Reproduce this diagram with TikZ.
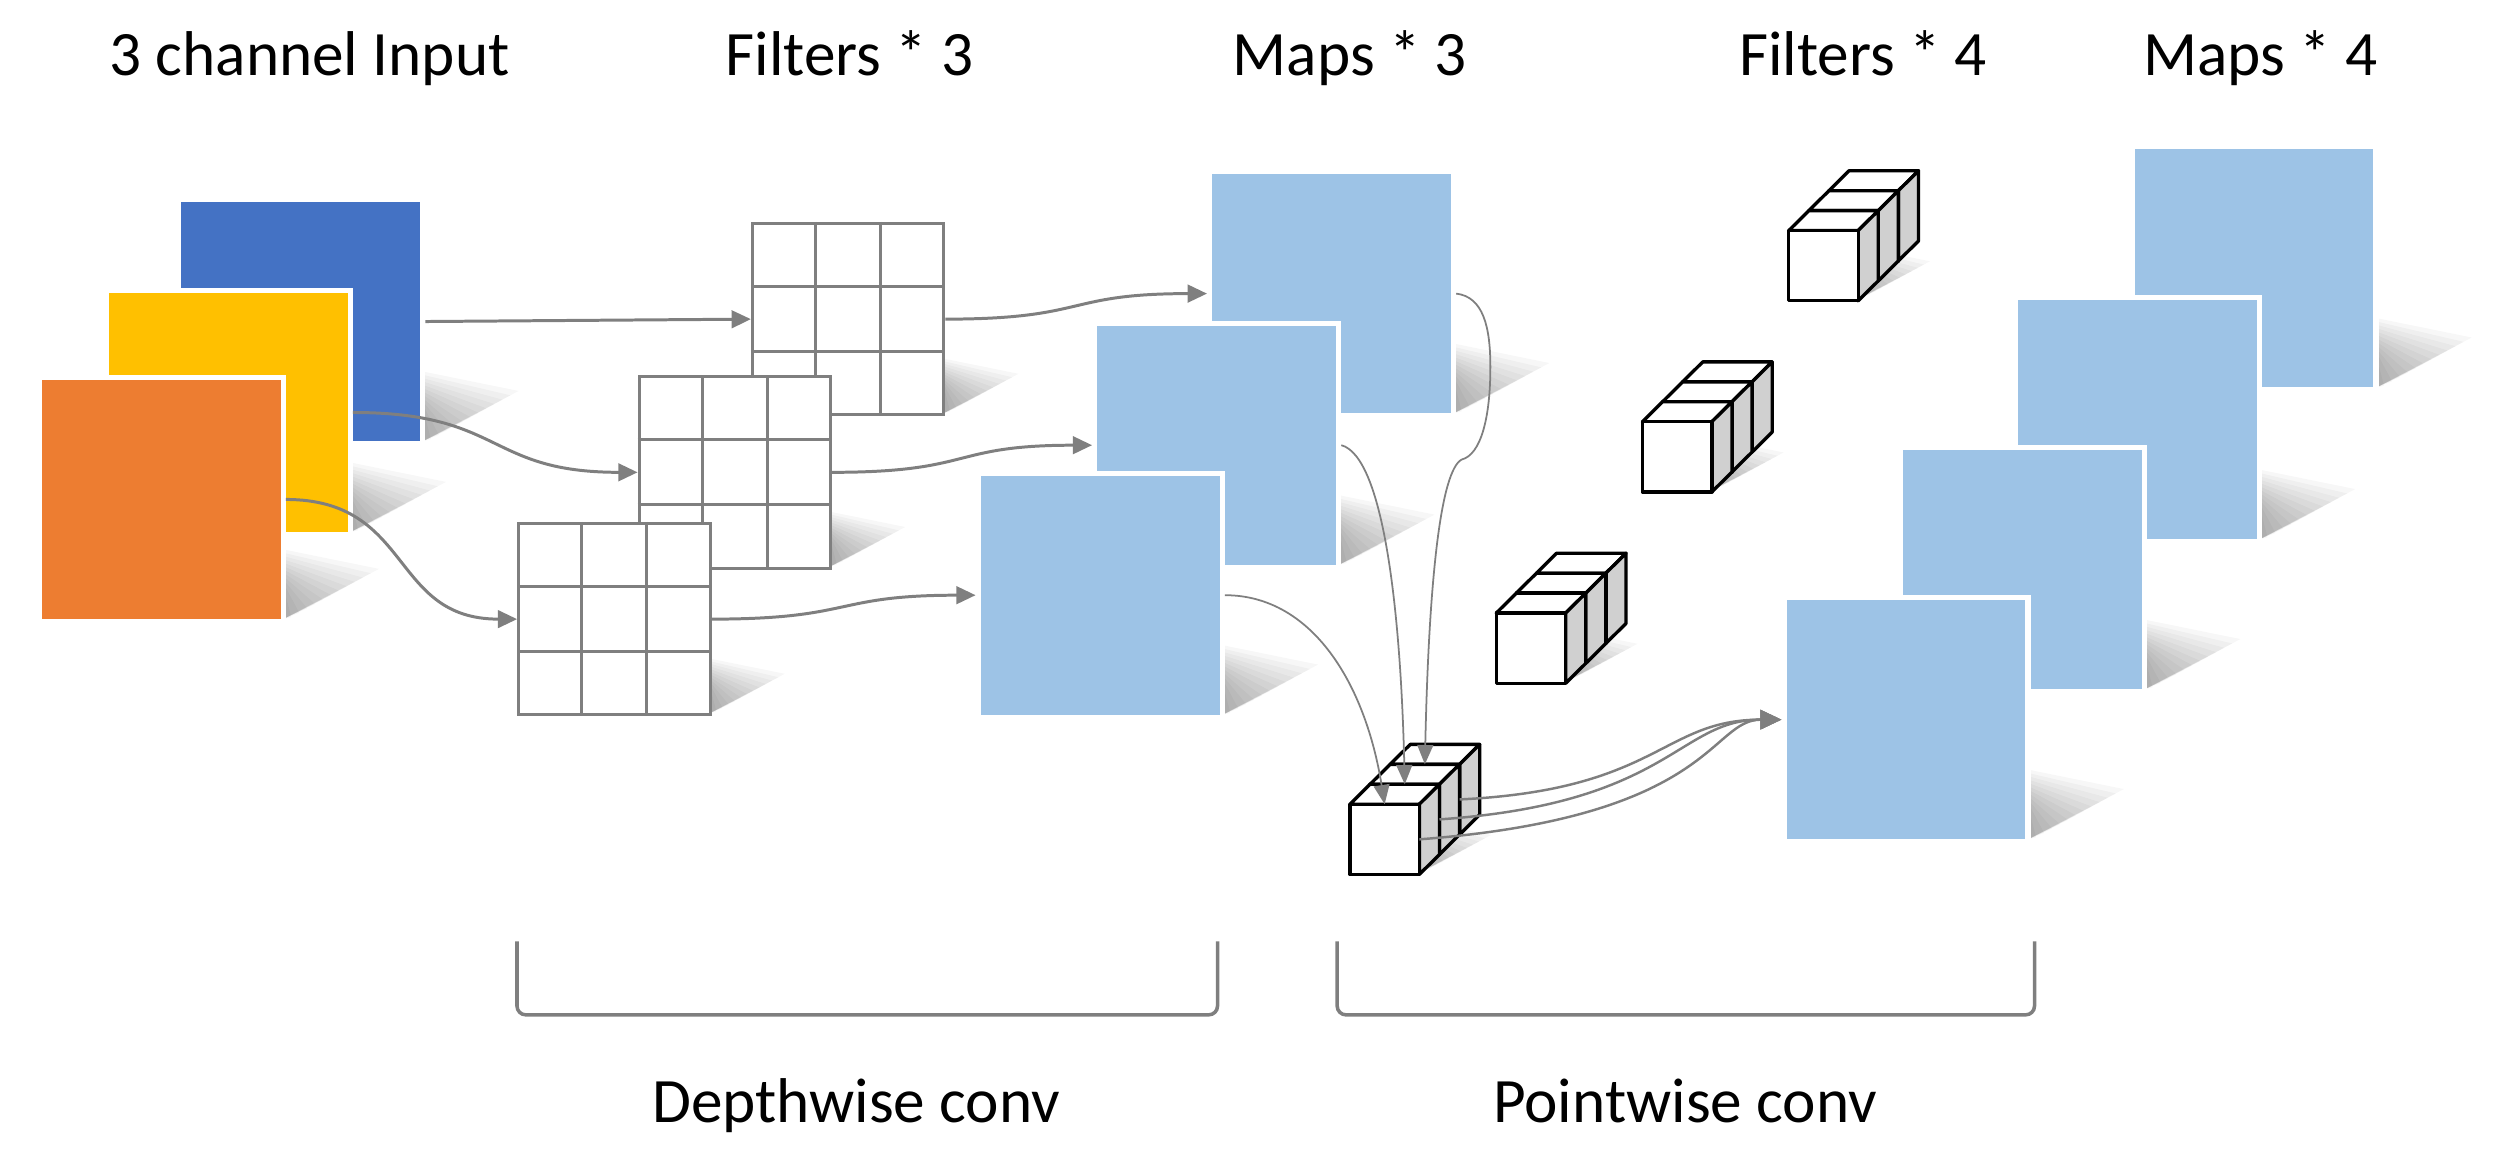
\documentclass[tikz,border=0pt]{standalone}
\usepackage{fontspec}
\setmainfont{Carlito}
\usetikzlibrary{arrows.meta,calc}

\definecolor{inblue}{HTML}{4472C4}
\definecolor{inyellow}{HTML}{FFC000}
\definecolor{inorange}{HTML}{ED7D31}
\definecolor{mapblue}{HTML}{9DC3E6}
\definecolor{linegray}{HTML}{7F7F7F}
\definecolor{cubegray}{HTML}{D0D0D0}

\tikzset{
  sheet/.style={rectangle, draw=white, line width=1.5pt, inner sep=0pt, minimum size=2.44cm},
  kernel/.style={rectangle, draw=linegray, fill=white, line width=0.85pt, inner sep=0pt, minimum size=1.915cm},
  kline/.style={draw=linegray, line width=0.85pt},
  flowarrow/.style={draw=linegray, line width=0.85pt, -{Triangle[length=5.5pt,width=5pt]}},
  thinflow/.style={draw=linegray, line width=0.5pt, -{Triangle[length=5.5pt,width=4.5pt]}},
  outflow/.style={draw=linegray, line width=0.7pt, -{Triangle[length=6pt,width=5.5pt]}},
  cubeline/.style={draw=black, line width=0.95pt, line join=round},
  headline/.style={font=\fontsize{18}{22}\selectfont, anchor=base, inner sep=0pt},
  bracketline/.style={draw=linegray, line width=1pt, rounded corners=2.5pt},
  softshadow/.pic={
    \foreach \k in {1,...,12}
      \fill[black, opacity=0.03] (-30,-1.5) -- (0,-1.5) -- ({5*\k},{-2.75*\k}) -- (0,{-20-2.1*\k}) -- (-30,{-20-2.1*\k}) -- cycle;
  },
  cubestack/.pic={
    \foreach \k in {2,1,0}{
      \begin{scope}[shift={({12.6*\k},{-12.5*\k})}]
        \filldraw[cubeline, fill=white] (0,0) -- (12.6,-12.5) -- (56.1,-12.5) -- (43.5,0) -- cycle;
        \filldraw[cubeline, fill=cubegray] (43.5,0) -- (56.1,-12.5) -- (56.1,31.5) -- (43.5,44) -- cycle;
        \filldraw[cubeline, fill=white] (0,0) rectangle (43.5,44);
        \coordinate (-in\k) at (21.75,0);
        \coordinate (-out\k) at (43.5,22);
      \end{scope}
    }
  }
}

\begin{document}
\begin{tikzpicture}[x=0.015957cm, y=-0.015957cm]
    \useasboundingbox (0,0) rectangle (1568,727);

    % 输入通道
    \foreach \cx/\cy/\col/\nm in {188.5/201.5/inblue/in1, 143/258.5/inyellow/in2, 101/313/inorange/in3}{
      \pic at (\cx+76.5,\cy+76.5) {softshadow};
      \node[sheet, fill=\col] (\nm) at (\cx,\cy) {};
    }

    % 卷积核 3x3
    \foreach \cx/\cy/\nm in {531.5/200/g1, 460.5/296/g2, 385/388/g3}{
      \pic[scale=0.78] at (\cx+60,\cy+60) {softshadow};
      \node[kernel] (\nm) at (\cx,\cy) {};
      \foreach \t in {1,2}{
        \draw[kline] ($(\nm.north west)!\t/3!(\nm.north east)$) -- ($(\nm.south west)!\t/3!(\nm.south east)$);
        \draw[kline] ($(\nm.north west)!\t/3!(\nm.south west)$) -- ($(\nm.north east)!\t/3!(\nm.south east)$);
      }
    }

    % 特征图
    \foreach \cx/\cy/\nm in {834.5/184/m1, 762.5/279/m2, 689.5/373/m3, 1412.5/168/n1, 1339.5/263/n2, 1267.5/357/n3, 1194.5/451/n4}{
      \pic at (\cx+76.5,\cy+76.5) {softshadow};
      \node[sheet, fill=mapblue] (\nm) at (\cx,\cy) {};
    }

    % 1x1 卷积核
    \foreach \cx/\cy/\nm in {1121/144.5/s1, 1029.3/264.3/s2, 937.7/384.2/s3, 846/504/s4}{
      \pic[scale=0.75] at (\cx+43.5,\cy+44) {softshadow};
      \pic (\nm) at (\cx,\cy) {cubestack};
    }

    % 箭头
    \draw[flowarrow] (in1.east) -- (g1.west);
    \draw[flowarrow] (in2.east) .. controls +(95,0) and +(-95,0) .. (g2.west);
    \draw[flowarrow] (in3.east) .. controls +(80,0) and +(-80,0) .. (g3.west);
    \draw[flowarrow] (g1.east) .. controls +(90,0) and +(-90,0) .. (m1.west);
    \draw[flowarrow] (g2.east) .. controls +(90,0) and +(-90,0) .. (m2.west);
    \draw[flowarrow] (g3.east) .. controls +(90,0) and +(-90,0) .. (m3.west);

    \draw[thinflow] (m3.east) .. controls +(55,0) and +(-12,-75) .. (s4-in0);
    \draw[thinflow] (m2.east) .. controls +(26,7) and +(-2.6,-111.5) .. (s4-in1);
    \draw[thinflow] (m1.east) .. controls +(17,2) and +(0,-25) .. (934,230)
                              .. controls +(0,32) and +(12,-3) .. (916,288)
                              .. controls +(-13,7) and +(2.5,-117) .. (s4-in2);

    \draw[outflow] (s4-out0) .. controls +(185,-14) and +(-45,0) .. (n4.west);
    \draw[outflow] (s4-out1) .. controls +(145,-10) and +(-65,0) .. (n4.west);
    \draw[outflow] (s4-out2) .. controls +(125,-6) and +(-75,0) .. (n4.west);

    % 标题
    \node[headline] (t1) at (194,47.6) {3 channel Input};
    \node[headline] (t2) at (532.5,47.6) {Filters * 3};
    \node[headline] (t3) at (846,47.6) {Maps * 3};
    \node[headline] (t4) at (1167.5,47.6) {Filters * 4};
    \node[headline] (t5) at (1416.5,47.6) {Maps * 4};

    % 括号与说明
    \draw[bracketline] (324,590) -- (324,636) -- (763,636) -- (763,590);
    \draw[bracketline] (838,590) -- (838,636) -- (1275,636) -- (1275,590);
    \node[headline] (l1) at (536.5,703.4) {Depthwise conv};
    \node[headline] (l2) at (1056,703.4) {Pointwise conv};

\end{tikzpicture}
\end{document}
